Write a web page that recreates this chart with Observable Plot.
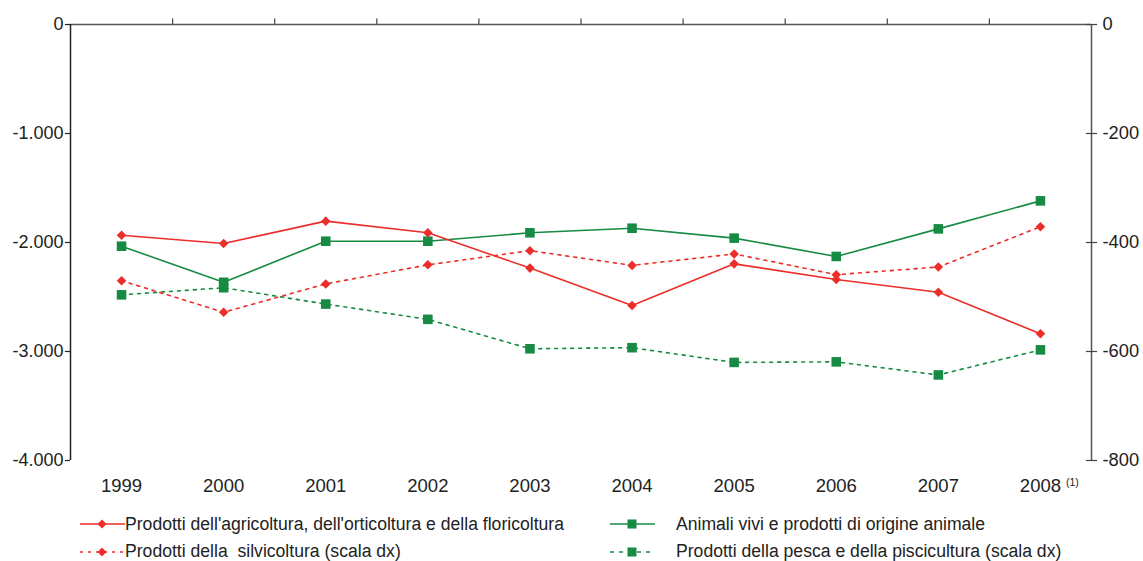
<!DOCTYPE html>
<html><head><meta charset="utf-8">
<script src="https://cdn.jsdelivr.net/npm/d3@7"></script>
<script src="https://cdn.jsdelivr.net/npm/@observablehq/plot@0.6"></script>
<style>
body{margin:0;background:#fff;font-family:"Liberation Sans",Arial,sans-serif;}
#wrap{position:relative;width:1143px;height:561px;overflow:hidden;}
.leg{position:absolute;font-size:17.6px;color:#222;white-space:pre;line-height:17.6px;}
.sample{position:absolute;}
</style></head><body><div id="wrap"><div id="chart"></div><div id="legend"></div></div>
<script>
const years = [1999, 2000, 2001, 2002, 2003, 2004, 2005, 2006, 2007, 2008];
const yearLabels = ["1999", "2000", "2001", "2002", "2003", "2004", "2005", "2006", "2007", "2008"];
// left scale
const agricoltura = [-1933, -2009, -1804, -1911, -2235, -2578, -2196, -2339, -2456, -2838];
const animali = [-2034, -2365, -1988, -1988, -1911, -1869, -1960, -2128, -1875, -1618];
// right scale
const silvicoltura = [-470, -528, -476, -441, -415, -442, -421, -459, -445, -371];
const pesca = [-496, -483, -513, -541, -595, -593, -620, -619, -643, -597];
const leftTicks = [0, -1000, -2000, -3000, -4000];
const rightTicks = [0, -200, -400, -600, -800];
const seriesNames = [
  "Prodotti dell'agricoltura, dell'orticoltura e della floricoltura",
  "Animali vivi e prodotti di origine animale",
  "Prodotti della  silvicoltura (scala dx)",
  "Prodotti della pesca e della piscicultura (scala dx)"
];
const note2008 = "(1)";

const RATIO = 5; // left units per right unit
const RED = "#ec2e2a", GREEN = "#178a43";
const itFmt = d3.formatLocale({decimal: ",", thousands: ".", grouping: [3], currency: ["€", ""], minus: "-"}).format(",");
const xLo = years[0] - 0.5, xHi = years[years.length - 1] + 0.5;
const bounds = d3.range(xLo + 1, xHi, 1);
const silvScaled = silvicoltura.map(v => v * RATIO);
const pescaScaled = pesca.map(v => v * RATIO);

const chart = Plot.plot({
  width: 1143, height: 510,
  marginLeft: 70, marginRight: 52, marginTop: 24, marginBottom: 50,
  x: {domain: [xLo, xHi], axis: null},
  y: {domain: [-4000, 0], axis: null},
  style: {fontFamily: "'Liberation Sans', Arial, sans-serif", background: "white", overflow: "visible"},
  marks: [
    // axes
    Plot.ruleY([0], {x1: xLo, x2: xHi, stroke: "#555", strokeWidth: 1.5}),
    Plot.ruleX(bounds, {y1: 0, y2: 50, stroke: "#444", strokeWidth: 1.2}),
    Plot.ruleX([xLo], {y1: -4000, y2: 0, stroke: "#222", strokeWidth: 1.5}),
    Plot.ruleX([xHi], {y1: -4000, y2: 0, stroke: "#555", strokeWidth: 1.5}),
    Plot.ruleY(leftTicks, {x1: xLo - 0.05, x2: xLo, stroke: "#222", strokeWidth: 1.2}),
    Plot.ruleY(rightTicks.map(v => v * RATIO), {x1: xHi - 0.05, x2: xHi + 0.06, stroke: "#444", strokeWidth: 1.2}),
    Plot.text(leftTicks, {x: xLo, y: d => d, text: d => itFmt(d), textAnchor: "end", dx: -7, fontSize: 18, fill: "#222"}),
    Plot.text(rightTicks, {x: xHi, y: d => d * RATIO, text: d => itFmt(d), textAnchor: "start", dx: 11, fontSize: 18.3, fill: "#222"}),
    Plot.text(years, {x: years, y: -4000, text: yearLabels, dy: 26, fontSize: 18.5, fill: "#222"}),
    Plot.text([note2008], {x: years[years.length - 1], y: -4000, text: d => d, dx: 32, dy: 22, fontSize: 10.5, fill: "#222"}),
    // series
    Plot.line(years, {x: years, y: pescaScaled, stroke: GREEN, strokeWidth: 1.6, strokeDasharray: "3,5"}),
    Plot.line(years, {x: years, y: silvScaled, stroke: RED, strokeWidth: 1.6, strokeDasharray: "3,5"}),
    Plot.line(years, {x: years, y: animali, stroke: GREEN, strokeWidth: 1.6}),
    Plot.line(years, {x: years, y: agricoltura, stroke: RED, strokeWidth: 1.6}),
    Plot.dot(years, {x: years, y: pescaScaled, symbol: "square", r: 5.4, fill: GREEN, stroke: "none"}),
    Plot.dot(years, {x: years, y: animali, symbol: "square", r: 5.4, fill: GREEN, stroke: "none"}),
    Plot.dot(years, {x: years, y: silvScaled, symbol: "diamond2", r: 4.3, fill: RED, stroke: "none"}),
    Plot.dot(years, {x: years, y: agricoltura, symbol: "diamond2", r: 4.3, fill: RED, stroke: "none"})
  ]
});
document.getElementById("chart").appendChild(chart);

// legend
const legendItems = [
  {name: seriesNames[0], color: RED, dash: null, shape: "diamond", lx: 80, tx: 125, y: 524, base: 531},
  {name: seriesNames[1], color: GREEN, dash: null, shape: "square", lx: 610, tx: 676, y: 524, base: 531},
  {name: seriesNames[2], color: RED, dash: "3,5", shape: "diamond", lx: 80, tx: 125, y: 551.5, base: 557.5},
  {name: seriesNames[3], color: GREEN, dash: "4,5", shape: "square", lx: 610, tx: 676, y: 551.5, base: 557.5}
];
const leg = document.getElementById("legend");
for (const it of legendItems) {
  const svg = d3.create("svg").attr("class", "sample").attr("width", 46).attr("height", 14)
    .style("left", it.lx + "px").style("top", (it.y - 7) + "px");
  svg.append("line").attr("x1", 0).attr("x2", 45).attr("y1", 7).attr("y2", 7)
    .attr("stroke", it.color).attr("stroke-width", 1.6).attr("stroke-dasharray", it.dash);
  if (it.shape === "diamond") svg.append("path").attr("d", "M22,2.5L26.5,7L22,11.5L17.5,7Z").attr("fill", it.color);
  else svg.append("rect").attr("x", 17.5).attr("y", 2.5).attr("width", 9).attr("height", 9).attr("fill", it.color);
  leg.appendChild(svg.node());
  const t = document.createElement("div");
  t.className = "leg"; t.textContent = it.name;
  t.style.left = it.tx + "px"; t.style.top = (it.base - 15) + "px";
  leg.appendChild(t);
}
</script></body></html>
